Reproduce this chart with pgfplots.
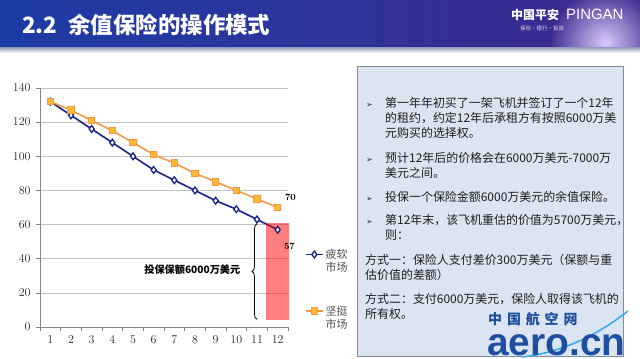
\documentclass[border=0pt]{standalone}
\usepackage{pgfplots}
\pgfplotsset{compat=1.18}
\usepackage{fontspec}
\usetikzlibrary{decorations.pathreplacing}
\newfontfamily\cjk{Noto Sans CJK SC}
\newfontfamily\lsans{Liberation Sans}
\newfontfamily\dejavu{DejaVu Sans}
\definecolor{navyc}{RGB}{25,35,135}
\definecolor{orangec}{RGB}{247,150,70}
\definecolor{orfill}{RGB}{255,185,50}
\definecolor{axisgray}{RGB}{134,134,134}
\definecolor{gridgray}{RGB}{195,195,195}
\definecolor{legendgray}{RGB}{80,80,80}
\definecolor{hdrL}{RGB}{28,60,165}
\definecolor{hdrM}{RGB}{12,30,112}
\definecolor{hdrR}{RGB}{62,42,142}
\definecolor{glow}{RGB}{215,200,250}
\definecolor{boxblue}{RGB}{219,229,241}
\definecolor{boxborder}{RGB}{128,140,155}
\definecolor{txt}{RGB}{30,30,30}
\definecolor{aeroblue}{RGB}{30,78,160}
\definecolor{swoosh}{RGB}{60,170,230}
\begin{document}
\begin{tikzpicture}
\begin{scope}[x=1bp,y=1bp]
\path[use as bounding box] (0,0) rectangle (640,358);
\fill[white] (0,0) rectangle (640,358);
% header
\shade[left color=hdrL, middle color=hdrM, right color=hdrR] (0,311) rectangle (640,358);
\begin{scope}
\clip (0,311) rectangle (640,358);
\shade[inner color=glow, outer color=hdrR] (605,315) circle (55);
\end{scope}
\shade[top color=hdrM!45!white, bottom color=white] (0,311) rectangle (640,305);
\node[anchor=base west, text=white, font=\cjk\bfseries\fontsize{22.5}{22.5}\selectfont, inner sep=0pt] at (22,325) {2.2\hspace{0.5em}余值保险的操作模式};
\node[anchor=base west, text=white, font=\cjk\bfseries\fontsize{12}{12}\selectfont, inner sep=0pt] at (511,339) {中国平安};
\node[anchor=base west, text=white, font=\lsans\fontsize{15}{15}\selectfont, inner sep=0pt] at (566,339) {PINGAN};
\node[anchor=base west, text=white!85!violet, font=\cjk\fontsize{5.5}{6}\selectfont, inner sep=0pt] at (520,328) {保险·银行·投资};
% right box
\filldraw[fill=boxblue, draw=boxborder, line width=0.8bp] (357,292) rectangle (623,1.5);
\begin{scope}[every node/.style={anchor=base west, inner sep=0pt, text=txt, font=\cjk\fontsize{12}{14}\selectfont}]
\node[font=\dejavu\fontsize{8}{8}\selectfont] at (366,250.5) {➢};
\node at (385,250.5) {第一年年初买了一架飞机并签订了一个12年};
\node at (385,235.5) {的租约，约定12年后承租方有按照6000万美};
\node at (385,220.5) {元购买的选择权。};
\node[font=\dejavu\fontsize{8}{8}\selectfont] at (366,195.5) {➢};
\node at (385,195.5) {预计12年后的价格会在6000万美元-7000万};
\node at (385,180.5) {美元之间。};
\node[font=\dejavu\fontsize{8}{8}\selectfont] at (366,156.5) {➢};
\node at (385,156.5) {投保一个保险金额6000万美元的余值保险。};
\node[font=\dejavu\fontsize{8}{8}\selectfont] at (366,133.5) {➢};
\node at (385,133.5) {第12年末，该飞机重估的价值为5700万美元，};
\node at (385,118.5) {则：};
\node at (365,93.5) {方式一：保险人支付差价300万美元（保额与重};
\node at (365,78.5) {估价值的差额）};
\node at (365,54.5) {方式二：支付6000万美元，保险人取得该飞机的};
\node at (365,39.5) {所有权。};
\end{scope}
% watermark
\draw[swoosh, line width=1.6bp] (522,1) .. controls (565,6) and (600,25) .. (628,47);
\node[anchor=base west, inner sep=0pt, text=aeroblue, font=\cjk\bfseries\fontsize{14}{14}\selectfont\addfontfeatures{LetterSpace=35}] at (488,33.5) {中国航空网};
\node[anchor=base west, inner sep=0pt, text=aeroblue, font=\lsans\bfseries\fontsize{39}{39}\selectfont] at (487,3) {aero.cn};
\end{scope}

\begin{axis}[
  at={(40bp,31bp)}, anchor=south west,
  scale only axis, width=248bp, height=239bp,
  xmin=0.5, xmax=12.5, ymin=0, ymax=140,
  clip=false,
  axis x line*=bottom, axis y line*=left,
  axis line style={draw=axisgray, line width=0.6bp, -},
  xtick={0.5,1.5,...,12.5}, xticklabels={},
  extra x ticks={1,2,3,4,5,6,7,8,9,10,11,12},
  extra x tick labels={1,2,3,4,5,6,7,8,9,10,11,12},
  extra x tick style={major tick length=0pt, xticklabel style={yshift=-5bp}},
  ytick={0,20,...,140},
  ymajorgrids, grid style={gridgray, line width=0.6bp},
  tick align=outside, major tick length=4bp,
  tick style={axisgray, line width=0.6bp},
  ticklabel style={font=\fontsize{12}{12}\selectfont, text=black!85},
  yticklabel style={xshift=-2bp},
  legend style={at={(axis description cs:1.068,0.335)}, anchor=north west,
    draw=none, fill=none, inner sep=0pt,
    font=\cjk\fontsize{11}{13}\selectfont, text=legendgray,
    row sep=42bp, cells={anchor=west}},
]
\addplot[color=navyc, line width=1.6bp, mark=diamond*, mark size=3.4bp,
  mark options={fill=white, line width=1.3bp}]
  coordinates {(1,132)(2,124)(3,116)(4,108)(5,100)(6,92)(7,86)(8,80)(9,74)(10,69)(11,63)(12,57)};
\addlegendentry{\begin{tabular}[t]{@{}l@{}}疲软\\市场\end{tabular}}
\addplot[color=orangec, line width=1.6bp, mark=square*, mark size=3.3bp,
  mark options={fill=orfill, draw=orangec, line width=1bp}]
  coordinates {(1,132)(2,127)(3,121)(4,115)(5,108)(6,101)(7,96)(8,90)(9,85)(10,80)(11,75)(12,70)};
\addlegendentry{\begin{tabular}[t]{@{}l@{}}坚挺\\市场\end{tabular}}
\addplot[draw=none, fill=red, fill opacity=0.5, forget plot]
  coordinates {(11.45,4)(12.57,4)(12.57,60.7)(11.45,60.7)};
\draw[decorate, decoration={brace, amplitude=5bp}, line width=0.8bp] (axis cs:11.0,4.5) -- (axis cs:11.0,60.5);
\node[anchor=east, font=\cjk\bfseries\fontsize{10.2}{12}\selectfont, inner sep=0pt] at (axis cs:10.2,33.5) {投保保额6000万美元};
\node[font=\bfseries\fontsize{9.5}{10}\selectfont] at (axis cs:12.62,76) {70};
\node[font=\bfseries\fontsize{9.5}{10}\selectfont] at (axis cs:12.57,47.5) {57};
\end{axis}
\end{tikzpicture}
\end{document}
